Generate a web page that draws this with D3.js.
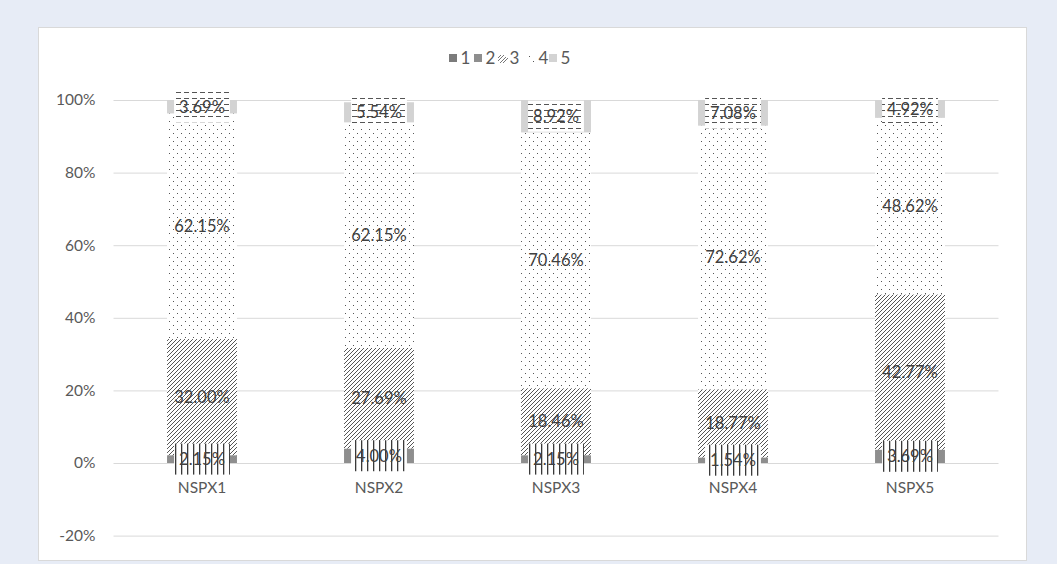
<!DOCTYPE html>
<html>
<head>
<meta charset="utf-8">
<script src="https://cdn.jsdelivr.net/npm/d3@7"></script>
<style>
  html, body { margin: 0; padding: 0; background: #e7ecf6; }
  svg { display: block; }
  text { font-family: Lato, "Liberation Sans", sans-serif; }
</style>
</head>
<body>
<svg id="chart" width="1057" height="564"></svg>
<script>
// Survey answer shares (percent) per item, five answer levels
const categories = ["NSPX1", "NSPX2", "NSPX3", "NSPX4", "NSPX5"];
const seriesNames = ["1", "2", "3", "4", "5"];
const level1 = [0, 0, 0, 0, 0];
const level2 = [2.15, 4.00, 2.15, 1.54, 3.69];
const level3 = [32.00, 27.69, 18.46, 18.77, 42.77];
const level4 = [62.15, 62.15, 70.46, 72.62, 48.62];
const level5 = [3.69, 5.54, 8.92, 7.08, 4.92];
const yTicks = [-20, 0, 20, 40, 60, 80, 100];

const levels = [level1, level2, level3, level4, level5];
const rows = categories.map((c, i) => {
  const r = { cat: c };
  seriesNames.forEach((s, k) => r[s] = levels[k][i]);
  return r;
});

const svg = d3.select("#chart");
const W = 1057, H = 564;

// panel
svg.append("rect").attr("x", 0).attr("y", 0).attr("width", W).attr("height", H).attr("fill", "#e7ecf6");
svg.append("rect").attr("x", 38.5).attr("y", 27.5).attr("width", 988).attr("height", 533)
  .attr("fill", "#fff").attr("stroke", "#d9d9d9");

// fill patterns
const defs = svg.append("defs");
const hatch = defs.append("pattern").attr("id", "p-hatch").attr("patternUnits", "userSpaceOnUse")
  .attr("width", 4).attr("height", 4);
hatch.append("rect").attr("width", 4).attr("height", 4).attr("fill", "#fff");
hatch.append("path").attr("d", "M-1,1 l2,-2 M0,4 l4,-4 M3,5 l2,-2")
  .attr("stroke", "#555").attr("stroke-width", 1);

const dots = defs.append("pattern").attr("id", "p-dots").attr("patternUnits", "userSpaceOnUse")
  .attr("width", 8).attr("height", 8);
dots.append("rect").attr("width", 8).attr("height", 8).attr("fill", "#fff");
dots.append("rect").attr("x", 1).attr("y", 1).attr("width", 1).attr("height", 1).attr("fill", "#555");
dots.append("rect").attr("x", 5).attr("y", 5).attr("width", 1).attr("height", 1).attr("fill", "#555");

const vlines = defs.append("pattern").attr("id", "p-vlines").attr("patternUnits", "userSpaceOnUse")
  .attr("width", 6).attr("height", 6);
vlines.append("rect").attr("width", 6).attr("height", 6).attr("fill", "#fff");
vlines.append("rect").attr("x", 1).attr("width", 1.3).attr("height", 6).attr("fill", "#3a3a3a");

const dashes = defs.append("pattern").attr("id", "p-dash").attr("patternUnits", "userSpaceOnUse")
  .attr("width", 8).attr("height", 6);
dashes.append("rect").attr("width", 8).attr("height", 6).attr("fill", "#fff");
dashes.append("rect").attr("x", 0).attr("y", 2).attr("width", 5).attr("height", 1).attr("fill", "#555");

const fills = {
  "1": "#7b7b7b",
  "2": "#8e8e8e",
  "3": "url(#p-hatch)",
  "4": "url(#p-dots)",
  "5": "#d3d3d3"
};
const labelBoxFill = { "2": "url(#p-vlines)", "5": "url(#p-dash)" };

const x = d3.scaleBand().domain(categories).range([113.5, 998.5]).paddingInner(0.605).paddingOuter(0.3025);
const y = d3.scaleLinear().domain([-20, 100]).range([535.6, 100]);

// gridlines
const gAxis = svg.append("g").attr("transform", "translate(113.5,0)")
  .call(d3.axisLeft(y).tickValues(yTicks).tickSize(-885).tickFormat(d => d + "%"));
gAxis.select(".domain").remove();
gAxis.selectAll(".tick line").attr("stroke", "#d9d9d9").attr("stroke-width", 1);
gAxis.selectAll(".tick text").attr("x", -18).attr("fill", "#595959").style("font-size", "15.5px");

// stacked bars
const stack = d3.stack().keys(seriesNames)(rows);
const gBars = svg.append("g");
stack.forEach(layer => {
  gBars.append("g").selectAll("rect").data(layer).join("rect")
    .attr("x", d => x(d.data.cat))
    .attr("width", x.bandwidth())
    .attr("y", d => y(d[1]))
    .attr("height", d => Math.max(0, y(d[0]) - y(d[1])))
    .attr("fill", fills[layer.key]);
});

// data labels
const gLabels = svg.append("g");
stack.forEach(layer => {
  layer.forEach(d => {
    const v = d[1] - d[0];
    if (v <= 0) return;
    const cx = x(d.data.cat) + x.bandwidth() / 2;
    const cy = y((d[0] + d[1]) / 2);
    const g = gLabels.append("g");
    const t = g.append("text").attr("x", cx).attr("y", cy).attr("dy", "0.35em")
      .attr("text-anchor", "middle").attr("fill", "#404040").style("font-size", "16.5px")
      .text(v.toFixed(2) + "%");
    if (labelBoxFill[layer.key]) {
      const bw = t.node().getComputedTextLength() + 10;
      g.insert("rect", "text").attr("x", cx - bw / 2).attr("y", cy - 15.5)
        .attr("width", bw).attr("height", 31).attr("fill", labelBoxFill[layer.key]);
    }
  });
});

// category labels
const gX = svg.append("g").attr("transform", `translate(0,${y(0)})`)
  .call(d3.axisBottom(x).tickSize(0).tickPadding(19));
gX.select(".domain").remove();
gX.selectAll(".tick text").attr("fill", "#595959").style("font-size", "15.5px");

// legend
const legendX = [449, 474, 498, 527, 549];
const lg = svg.append("g").attr("transform", "translate(0,58)");
seriesNames.forEach((s, i) => {
  const it = lg.append("g").attr("transform", `translate(${legendX[i]},0)`);
  if (s === "3") {
    it.append("path").attr("d", "M0,3 l6,-6 M2,5 l6,-6 M5,5 l5,-5 M0,0 l3,-3")
      .attr("stroke", "#777").attr("stroke-width", 1);
  } else if (s === "4") {
    it.append("rect").attr("x", 2).attr("y", -2).attr("width", 1).attr("height", 1).attr("fill", "#555");
    it.append("rect").attr("x", 6).attr("y", 3).attr("width", 1).attr("height", 1).attr("fill", "#555");
  } else {
    it.append("rect").attr("x", 0).attr("y", -4).attr("width", 8).attr("height", 8).attr("fill", fills[s]);
  }
  it.append("text").attr("x", 11.5).attr("dy", "0.36em").attr("fill", "#595959")
    .style("font-size", "17px").text(s);
});
</script>
</body>
</html>
